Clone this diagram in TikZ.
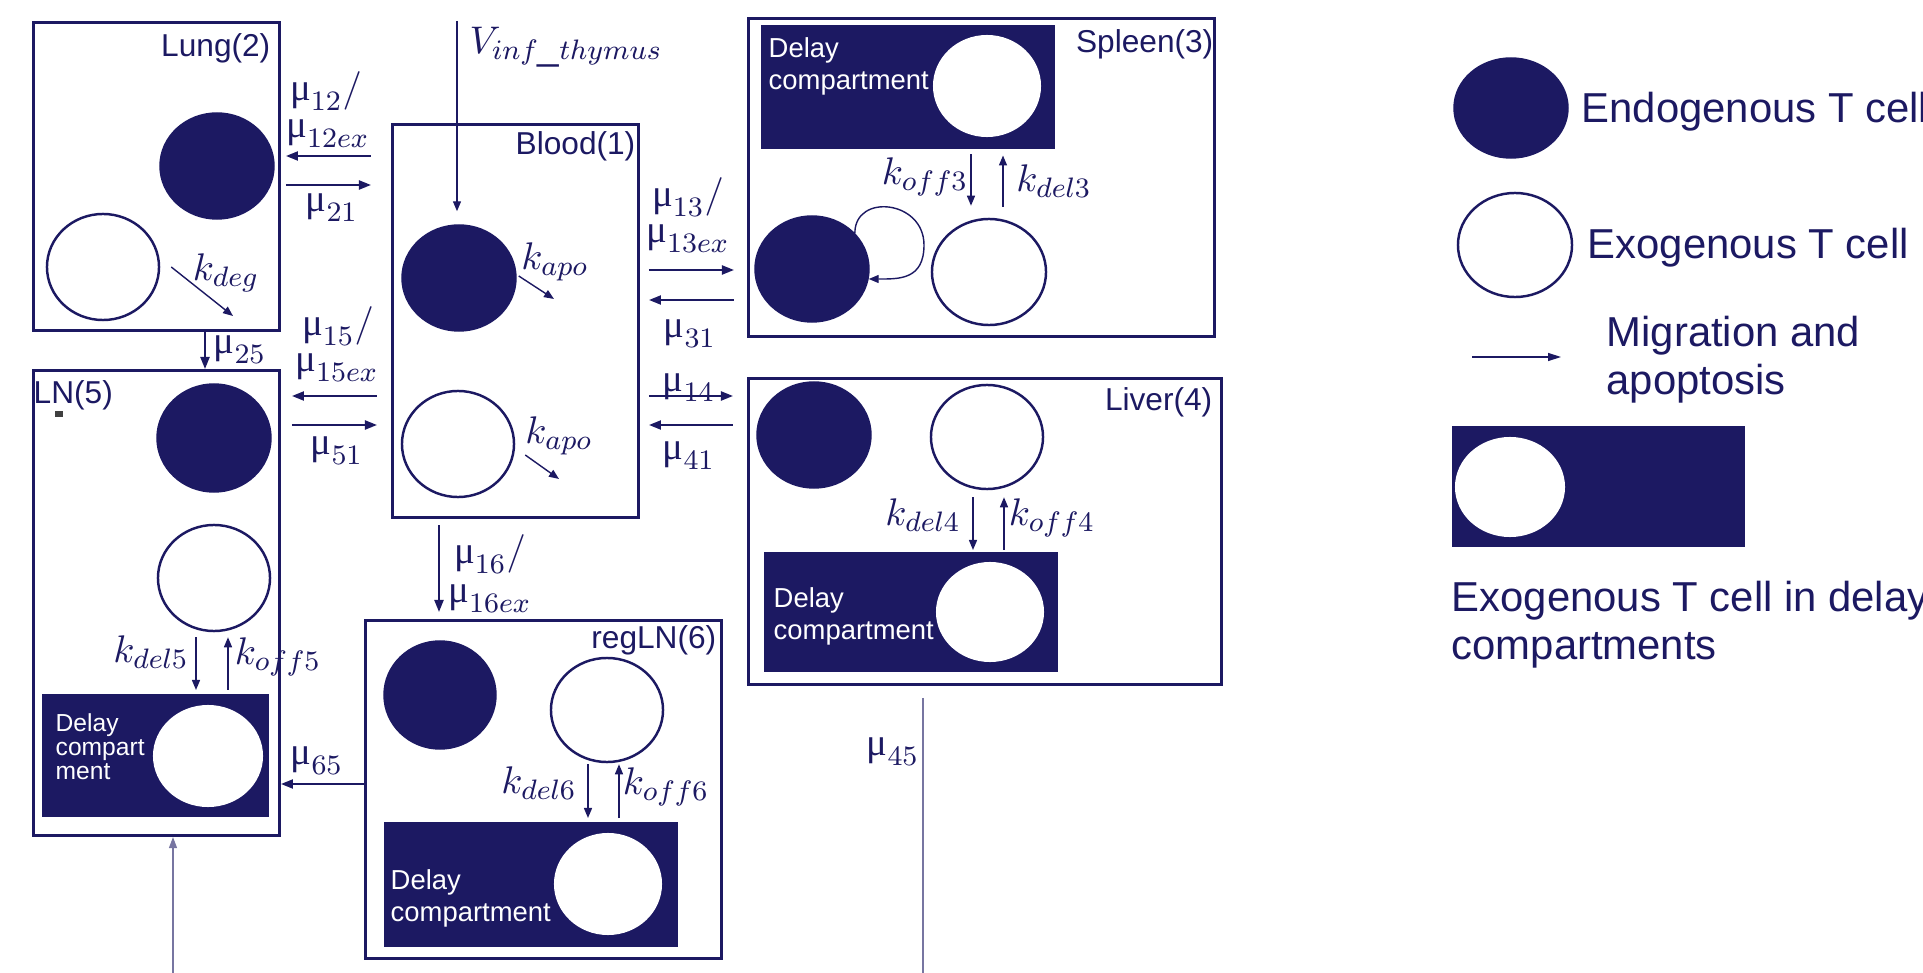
\documentclass[tikz,border=0pt]{standalone}
\usepackage[no-math]{fontspec}
\setmainfont{Liberation Sans}
\newfontfamily\grkfont{Liberation Serif}
\usetikzlibrary{arrows.meta,positioning,shapes.geometric}
\definecolor{navy}{RGB}{28,25,98}
\newcommand{\mup}{\mbox{\grkfont μ}}

\begin{document}
\begin{tikzpicture}[
  x=0.01cm, y=-0.01cm,
  organ/.style={draw=navy, line width=0.8pt, inner sep=0, anchor=north west},
  delaybox/.style={draw=navy, fill=navy, inner sep=0, anchor=north west},
  endo/.style={ellipse, draw=navy, fill=navy, inner sep=0, minimum width=1.14cm, minimum height=1.06cm},
  exo/.style={ellipse, draw=navy, fill=white, line width=0.7pt, inner sep=0, minimum width=1.12cm, minimum height=1.06cm},
  held/.style={ellipse, fill=white, inner sep=0, minimum width=1.08cm, minimum height=1.02cm},
  orglab/.style={text=navy, font=\fontsize{9}{10}\selectfont, inner sep=0},
  delaytxt/.style={text=white, font=\fontsize{7.8}{9.1}\selectfont, align=left, inner sep=0, anchor=north west},
  legtxt/.style={text=navy, font=\fontsize{11.9}{13.9}\selectfont, align=left, inner sep=0},
  rlab/.style={text=navy, font=\fontsize{11}{13}\selectfont, inner sep=0},
  mig/.style={-{Triangle[length=1.2mm, width=0.9mm]}, draw=navy, line width=0.6pt},
  rate/.style={-{Triangle[length=1mm, width=0.8mm]}, draw=navy, line width=0.4pt},
  faint/.style={draw=navy!60, line width=0.4pt}
]
\useasboundingbox (0,0) rectangle (1923,973);
\clip (0,0) rectangle (1923,973);

% compartments
\node[organ, minimum width=2.46cm, minimum height=3.08cm] (lung) at (32,21) {};
\node[organ, minimum width=2.46cm, minimum height=3.93cm] (blood) at (391,123) {};
\node[organ, minimum width=4.66cm, minimum height=3.18cm] (spleen) at (747,17) {};
\node[organ, minimum width=4.73cm, minimum height=3.06cm] (liver) at (747,377) {};
\node[organ, minimum width=2.46cm, minimum height=4.65cm] (ln) at (32,369) {};
\node[organ, minimum width=3.56cm, minimum height=3.38cm] (reg) at (364,619) {};

\node[orglab, anchor=base east] (lunglab) at (271,57) {Lung(2)};
\node[orglab, anchor=base east] (bloodlab) at (636,155) {Blood(1)};
\node[orglab, anchor=base east] (spleenlab) at (1214,53) {Spleen(3)};
\node[orglab, anchor=base east] (liverlab) at (1213,411) {Liver(4)};
\node[orglab, anchor=base west] (lnlab) at (33,404) {LN(5)};
\node[orglab, anchor=base east] (reglab) at (717,648) {regLN(6)};
\node[fill=black!75, inner sep=0, minimum width=0.07cm, minimum height=0.06cm] (speck) at (59,414) {};

% delay compartments
\node[delaybox, minimum width=2.92cm, minimum height=1.23cm] (spD) at (761,25) {};
\node[delaybox, minimum width=2.92cm, minimum height=1.19cm] (liD) at (764,552) {};
\node[delaybox, minimum width=2.25cm, minimum height=1.22cm] (lnD) at (42,694) {};
\node[delaybox, minimum width=2.92cm, minimum height=1.24cm] (rgD) at (384,822) {};
\node[delaytxt] (spDt) at (768,37) {Delay\\compartment};
\node[delaytxt] (liDt) at (773,587) {Delay\\compartment};
\node[delaytxt, font=\fontsize{7}{6.8}\selectfont] (lnDt) at (55,713) {Delay\\compart\\ment};
\node[delaytxt] (rgDt) at (390,869) {Delay\\compartment};
\node[held] (spDX) at (987,86) {};
\node[held, minimum height=1cm] (liDX) at (990,612) {};
\node[held, minimum width=1.1cm] (lnDX) at (208,756) {};
\node[held] (rgDX) at (608,884) {};

% cells
\node[endo] (lungE) at (217,166) {};
\node[exo] (lungX) at (103,267) {};
\node[endo] (bloodE) at (459,278) {};
\node[exo] (bloodX) at (458,444) {};
\node[endo] (spE) at (812,269) {};
\node[exo, minimum width=1.14cm] (spX) at (989,272) {};
\node[endo] (liE) at (814,435) {};
\node[exo, minimum height=1.04cm] (liX) at (987,437) {};
\node[endo, minimum height=1.08cm] (lnE) at (214,438) {};
\node[exo] (lnX) at (214,578) {};
\node[endo, minimum width=1.12cm, minimum height=1.08cm] (rgE) at (440,695) {};
\node[exo, minimum height=1.04cm] (rgX) at (607,710) {};

% migration between compartments
\draw[mig, shorten <=0.2cm, shorten >=0.05cm] (blood.west |- 0,156) -- (lung.east |- 0,156);
\draw[mig, shorten <=0.05cm, shorten >=0.2cm] (lung.east |- 0,185) -- (blood.west |- 0,185);
\draw[mig, shorten <=0.14cm, shorten >=0.11cm] (blood.west |- 0,396) -- (ln.east |- 0,396);
\draw[mig, shorten <=0.11cm, shorten >=0.14cm] (ln.east |- 0,425) -- (blood.west |- 0,425);
\draw[mig, shorten <=0.09cm, shorten >=0.13cm] (blood.east |- 0,270) -- (spleen.west |- 0,270);
\draw[mig, shorten <=0.13cm, shorten >=0.09cm] (spleen.west |- 0,300) -- (blood.east |- 0,300);
\draw[mig, shorten <=0.09cm, shorten >=0.14cm] (blood.east |- 0,396) -- (liver.west |- 0,396);
\draw[mig, shorten <=0.14cm, shorten >=0.09cm] (liver.west |- 0,425) -- (blood.east |- 0,425);
\draw[mig] (205,0 |- lung.south) -- (205,0 |- ln.north);
\draw[mig, shorten <=0.06cm, shorten >=0.07cm] (439,0 |- blood.south) -- (439,0 |- reg.north);
\draw[mig] (reg.west |- 0,784) -- (ln.east |- 0,784);

\coordinate (lnIn) at (173,973);
\draw[faint, -{Triangle[length=1.1mm, width=0.8mm]}] (lnIn) -- (lnIn |- ln.south);
\coordinate (liOut) at (923,973);
\draw[faint, shorten <=0.12cm] (liver.south -| liOut) -- (liOut);

\coordinate (thymus) at (457,21);
\draw[rate, shorten >=0.13cm] (thymus) -- (thymus |- bloodE.north);

% loss and exchange with delay compartments
\coordinate (degEnd) at (233,316);
\draw[rate] ([xshift=0.11cm]lungX.east) -- (degEnd);
\coordinate (apo1) at (554,299);
\draw[rate] ([shift={(2,-2)}]bloodE.east) -- (apo1);
\coordinate (apo2) at (559,479);
\draw[rate] ([shift={(10,11)}]bloodX.east) -- (apo2);

\draw[rate, shorten <=0.05cm, shorten >=0.12cm] (971,0 |- spD.south) -- (971,0 |- spX.north);
\draw[rate, shorten <=0.11cm, shorten >=0.06cm] (1003,0 |- spX.north) -- (1003,0 |- spD.south);
\coordinate (loopR) at (924,245);
\draw[rate] (spE.40) .. controls +(0,-40) and +(0,-45) .. (loopR) .. controls +(0,35) and +(30,0) .. (spE.-10);

\draw[rate, shorten <=0.07cm, shorten >=0.02cm] (973,0 |- liX.south) -- (973,0 |- liD.north);
\draw[rate, shorten <=0.02cm, shorten >=0.07cm] (1004,0 |- liD.north) -- (1004,0 |- liX.south);
\draw[rate, shorten <=0.05cm, shorten >=0.04cm] (196,0 |- lnX.south) -- (196,0 |- lnD.north);
\draw[rate, shorten <=0.04cm, shorten >=0.05cm] (228,0 |- lnD.north) -- (228,0 |- lnX.south);
\draw[rate, shorten <=0.01cm, shorten >=0.04cm] (588,0 |- rgX.south) -- (588,0 |- rgD.north);
\draw[rate, shorten <=0.04cm, shorten >=0.01cm] (619,0 |- rgD.north) -- (619,0 |- rgX.south);

% rate labels
\node[rlab, anchor=west] (vthy) at (469,47) {$V_{inf\_thymus}$};
\node[rlab] (m12a) at (326,91) {$\mup_{12}/$};
\node[rlab] (m12b) at (328,134) {$\mup_{12ex}$};
\node[rlab] (m21) at (332,208) {$\mup_{21}$};
\node[rlab] (m15a) at (338,326) {$\mup_{15}/$};
\node[rlab] (m15b) at (337,368) {$\mup_{15ex}$};
\node[rlab] (m51) at (337,451) {$\mup_{51}$};
\node[rlab] (m25) at (240,350) {$\mup_{25}$};
\node[rlab] (m13a) at (688,197) {$\mup_{13}/$};
\node[rlab] (m13b) at (688,239) {$\mup_{13ex}$};
\node[rlab] (m31) at (690,334) {$\mup_{31}$};
\node[rlab] (m14) at (689,388) {$\mup_{14}$};
\node[rlab] (m41) at (689,456) {$\mup_{41}$};
\node[rlab] (m16a) at (490,554) {$\mup_{16}/$};
\node[rlab] (m16b) at (490,599) {$\mup_{16ex}$};
\node[rlab] (m65) at (317,761) {$\mup_{65}$};
\node[rlab] (m45) at (893,752) {$\mup_{45}$};
\node[rlab] (kdeg) at (226,273) {$k_{deg}$};
\node[rlab] (kapo1) at (555,262) {$k_{apo}$};
\node[rlab] (kapo2) at (559,436) {$k_{apo}$};
\node[rlab] (koff3) at (925,177) {$k_{off3}$};
\node[rlab] (kdel3) at (1054,181) {$k_{del3}$};
\node[rlab] (kdel4) at (923,515) {$k_{del4}$};
\node[rlab] (koff4) at (1052,518) {$k_{off4}$};
\node[rlab] (kdel5) at (151,652) {$k_{del5}$};
\node[rlab] (koff5) at (278,657) {$k_{off5}$};
\node[rlab] (kdel6) at (539,783) {$k_{del6}$};
\node[rlab] (koff6) at (666,787) {$k_{off6}$};

% legend
\node[endo, minimum height=1cm] (lgE) at (1511,108) {};
\node[exo, minimum width=1.14cm, minimum height=1.04cm] (lgX) at (1515,245) {};
\coordinate (lgA1) at (1472,357);
\coordinate (lgA2) at (1561,357);
\draw[rate, -{Triangle[length=1.3mm, width=0.8mm]}] (lgA1) -- (lgA2);
\node[delaybox, minimum width=2.91cm, minimum height=1.2cm] (lgD) at (1452,426) {};
\node[held, minimum width=1.1cm, minimum height=1cm] (lgDX) at (1510,487) {};
\node[legtxt, anchor=base west] (lgEt) at (1581,123) {Endogenous T cell};
\node[legtxt, anchor=base west] (lgXt) at (1587,259) {Exogenous T cell};
\node[legtxt, anchor=north west] (lgAt) at (1606,315) {Migration and\\apoptosis};
\node[legtxt, anchor=north west] (lgDt) at (1451,580) {Exogenous T cell in delay\\compartments};
\end{tikzpicture}
\end{document}
